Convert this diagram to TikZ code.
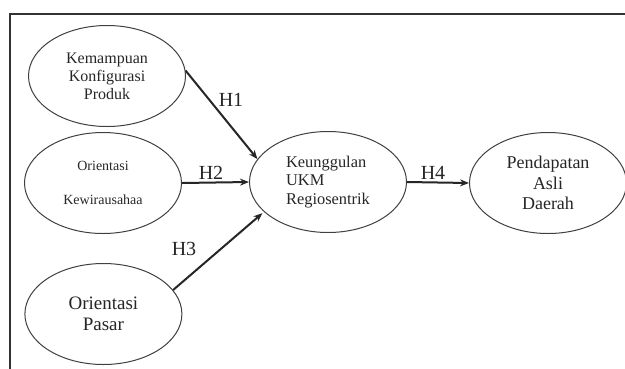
\documentclass[tikz,border=0pt]{standalone}
\usepackage{fontspec}
\setmainfont{Liberation Serif}
\usetikzlibrary{shapes.geometric,arrows.meta}
\begin{document}
\begin{tikzpicture}[x=1pt,y=-1pt,
  var/.style={ellipse,draw=black!75,line width=1pt,minimum width=157pt,minimum height=101pt,inner sep=0pt,text=black!85,align=center},
  path/.style={line width=2pt,draw=black!85,-{Stealth[length=9pt,width=7pt]}},
  hlab/.style={font=\fontsize{20}{22}\selectfont,text=black!85,inner sep=0pt}]
\clip (0,0) rectangle (625,368);
\fill[white] (0,0) rectangle (625,368);
\draw[line width=1.5pt,black!80] (10,380) -- (10,14) -- (640,14);
\node[var,font=\fontsize{16}{18}\selectfont] (kpk) at (107,76) {Kemampuan\\Konfigurasi\\Produk};
\node[var,font=\fontsize{14}{16}\selectfont] (ok) at (103,183) {Orientasi\\[18pt]Kewirausahaa};
\node[var,font=\fontsize{19}{21}\selectfont] (op) at (103.4,314) {Orientasi\\Pasar};
\node[var,align=left,font=\fontsize{16.4}{18.3}\selectfont] (ku) at (328,182) {Keunggulan\\UKM\\Regiosentrik};
\node[var,font=\fontsize{18}{20.8}\selectfont] (pad) at (548,183) {Pendapatan\\Asli\\Daerah};
\draw[path] (kpk.4) -- (ku.162);
\draw[path] (ok.east) -- (ku.west);
\draw[path,shorten >=2pt] (op.19) -- (ku.205);
\draw[path] (ku.east) -- (pad.west);
\node[hlab] (h1) at (231,100) {H1};
\node[hlab] (h2) at (211,173) {H2};
\node[hlab] (h3) at (184,249) {H3};
\node[hlab] (h4) at (433,173) {H4};
\end{tikzpicture}
\end{document}
